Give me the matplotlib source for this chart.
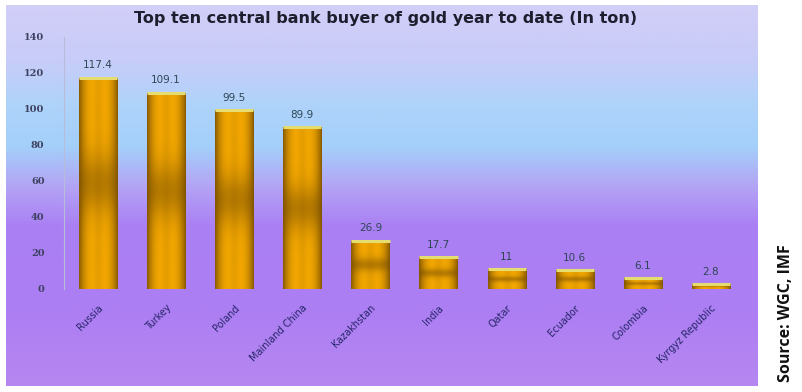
import numpy as np
import matplotlib
matplotlib.use("Agg")
import matplotlib.pyplot as plt
from matplotlib.colors import LinearSegmentedColormap, to_rgb

countries = ["Russia", "Turkey", "Poland", "Mainland China", "Kazakhstan",
             "India", "Qatar", "Ecuador", "Colombia", "Kyrgyz Republic"]
tonnes = [117.4, 109.1, 99.5, 89.9, 26.9, 17.7, 11, 10.6, 6.1, 2.8]
value_labels = ["117.4", "109.1", "99.5", "89.9", "26.9", "17.7", "11", "10.6", "6.1", "2.8"]
y_ticks = [0, 20, 40, 60, 80, 100, 120, 140]

title = "Top ten central bank buyer of gold year to date (In ton)"
source = "Source: WGC, IMF"

W, H = 802, 392
fig = plt.figure(figsize=(W / 100, H / 100), dpi=100)
fig.patch.set_facecolor("white")

# background panel with vertical colour gradient
bg = fig.add_axes([6 / W, 6 / H, 752 / W, 381 / H])
bg_cmap = LinearSegmentedColormap.from_list(
    "panel",
    [(0.0, to_rgb("#d2cff8")), (0.14, to_rgb("#c8ccf8")), (0.26, to_rgb("#afd3fa")),
     (0.37, to_rgb("#a3d0fa")), (0.47, to_rgb("#b3a6f5")), (0.58, to_rgb("#aa80f3")),
     (0.80, to_rgb("#ad7ef3")), (1.0, to_rgb("#b687f0"))])
grad = np.linspace(0, 1, 256).reshape(-1, 1)
bg.imshow(grad, aspect="auto", cmap=bg_cmap, extent=(0, 1, 0, 1), origin="upper")
bg.set_axis_off()

ax = fig.add_axes([64 / W, 1 - 289 / H, (745 - 64) / W, (289 - 37) / H])
ax.set_facecolor("none")
x = np.arange(len(countries))
width = 0.56

bars = ax.bar(x, tonnes, width=width, color="none", edgecolor="none", zorder=2)

# gold shading: darker edges and a darker band half-way up each bar
gold = np.array(to_rgb("#f8ab00"))
dark = np.array(to_rgb("#7a4f00"))
nx, ny = 60, 120
u = np.linspace(-1, 1, nx)
v = np.linspace(0, 1, ny)
hprof = 0.12 + 0.88 * np.clip(1 - np.abs(u) ** 3, 0, 1) - 0.15 * np.exp(-(u / 0.25) ** 2)
hprof = np.clip(hprof, 0, 1)
for xi, val, rect in zip(x, tonnes, bars):
    vprof = 1 - 0.5 * np.exp(-((v - 0.5) / 0.14) ** 2)
    shade = np.clip(hprof[None, :] * vprof[:, None], 0, 1)
    img = dark[None, None, :] + (gold - dark)[None, None, :] * shade[..., None]
    im = ax.imshow(img, extent=(xi - width / 2, xi + width / 2, 0, val),
                   origin="lower", aspect="auto", zorder=3, interpolation="bilinear")
    im.set_clip_path(rect)
    ax.plot([xi - width / 2, xi + width / 2], [val, val], color="#e6dd70",
            lw=2.2, zorder=4, solid_capstyle="butt")

for xi, val, lab in zip(x, tonnes, value_labels):
    ax.text(xi, val + 4, lab, ha="center", va="bottom", fontsize=7.5,
            color="#2e4656", zorder=5)

ax.set_xlim(-0.5, len(countries) - 0.5)
ax.set_ylim(0, 140)
ax.set_yticks(y_ticks)
ax.set_yticklabels([str(t) for t in y_ticks], fontsize=7, fontweight="bold",
                   color="#3d4060", family="DejaVu Serif")
ax.tick_params(axis="y", length=0, pad=14)
ax.set_xticks(x)
ax.set_xticklabels(countries, rotation=45, ha="right", rotation_mode="anchor",
                   fontsize=7, color="#25256a")
ax.tick_params(axis="x", length=0, pad=10)
for s in ["top", "right", "bottom"]:
    ax.spines[s].set_visible(False)
ax.spines["left"].set_color("#b8bcd8")
ax.spines["left"].set_linewidth(0.8)

fig.text(386 / W, 1 - 18 / H, title, ha="center", va="center", fontsize=11.5,
         fontweight="bold", color="#1e1e2e")
fig.text(786 / W, 1 - 313 / H, source, ha="center", va="center", rotation=90,
         fontsize=11.5, fontweight="bold", color="#111111", family="Open Sans")

fig.savefig("out.png", dpi=100)
